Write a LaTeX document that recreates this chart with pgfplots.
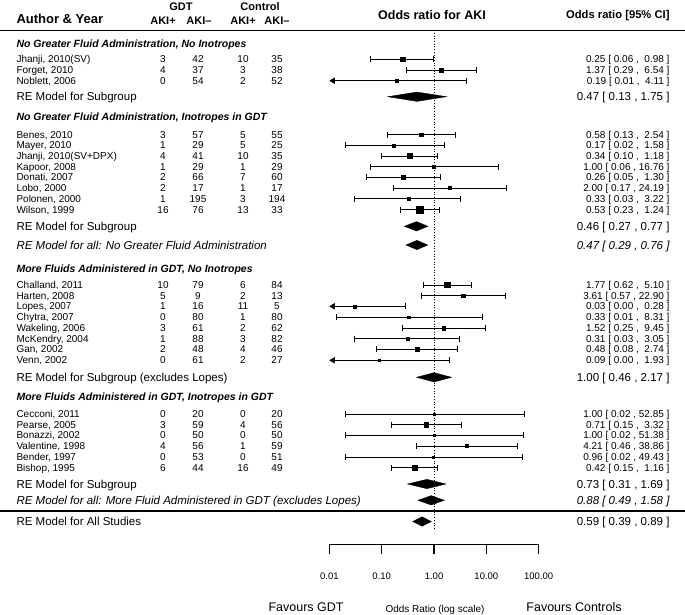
\documentclass[border=0pt]{standalone}
\usepackage{pgfplots}
\pgfplotsset{compat=1.18}
\usepackage{pgfplotstable}
\usepackage{fontspec}
\setmainfont{Liberation Sans}
\newcommand{\fs}[1]{\fontsize{#1bp}{#1bp}\selectfont}

% study estimates: y (row position), odds ratio, square half-size
\pgfplotstableread{
y or ms
555.7 0.25 2.3
545.0 1.37 2.0
534.3 0.19 1.4
480.3 0.58 2.0
469.7 0.17 1.5
459.0 0.34 2.5
448.3 1.00 1.4
437.7 0.26 2.0
427.0 2.00 1.4
416.3 0.33 1.4
405.3 0.53 3.4
330.0 1.77 2.7
319.3 3.61 1.7
308.7 0.03 1.5
298.0 0.33 1.2
287.0 1.52 1.8
276.3 0.31 1.5
265.7 0.48 2.0
254.7 0.09 1.2
201.0 1.00 1.1
190.3 0.71 2.2
179.7 1.00 1.1
169.0 4.21 1.5
158.0 0.96 1.1
147.3 0.42 2.5
}\studies

\newcommand{\study}[7]{%
  \node[anchor=base west,font=\fs{10},yshift=-3.6bp] at (axis cs:13,#1) {#2};
  \node[anchor=base,font=\fs{10},yshift=-3.6bp] at (axis cs:163,#1) {#3};
  \node[anchor=base,font=\fs{10},yshift=-3.6bp] at (axis cs:198,#1) {#4};
  \node[anchor=base,font=\fs{10},yshift=-3.6bp] at (axis cs:243,#1) {#5};
  \node[anchor=base,font=\fs{10},yshift=-3.6bp] at (axis cs:277,#1) {#6};
  \node[anchor=base east,font=\fs{10},yshift=-3.6bp] at (axis cs:673,#1) {#7};
}
\newcommand{\remodel}[3]{%
  \node[anchor=base west,font=\fs{11.5},yshift=-4.1bp] at (axis cs:13,#1) {#2};
  \node[anchor=base east,font=\fs{11.5},yshift=-4.1bp] at (axis cs:673,#1) {#3};
}
\newcommand{\heading}[2]{%
  \node[anchor=base west,font=\fs{10.5}\bfseries\itshape,yshift=-3.8bp] at (axis cs:13,#1) {#2};
}

\begin{document}
\begin{tikzpicture}
\useasboundingbox (0,-615bp) rectangle (685bp,0);

\begin{axis}[
  at={(0,0)}, anchor=north west,
  scale only axis, width=685bp, height=615bp,
  xmin=0, xmax=685, ymin=0, ymax=615,
  hide axis, clip=false]
  % rules
  \addplot[black, line width=1.3pt, mark=none] coordinates {(0,584.3) (685,584.3)};
  \addplot[black, line width=1.3pt, mark=none] coordinates {(0,104) (685,104)};

  % header
  \node[anchor=base,font=\fs{11}\bfseries,yshift=-4bp] at (axis cs:181,608) {GDT};
  \node[anchor=base,font=\fs{11}\bfseries,yshift=-4bp] at (axis cs:260,608) {Control};
  \node[anchor=base west,font=\fs{13}\bfseries,yshift=-4.7bp] at (axis cs:13,596) {Author \& Year};
  \node[anchor=base,font=\fs{11}\bfseries,yshift=-4bp] at (axis cs:163,594) {AKI+};
  \node[anchor=base,font=\fs{11}\bfseries,yshift=-4bp] at (axis cs:199,594) {AKI\textendash};
  \node[anchor=base,font=\fs{11}\bfseries,yshift=-4bp] at (axis cs:243,594) {AKI+};
  \node[anchor=base,font=\fs{11}\bfseries,yshift=-4bp] at (axis cs:277,594) {AKI\textendash};
  \node[anchor=base,font=\fs{12.5}\bfseries,yshift=-4.5bp] at (axis cs:432,600) {Odds ratio for AKI};
  \node[anchor=base east,font=\fs{11.2}\bfseries,yshift=-4bp] at (axis cs:673,600) {Odds ratio [95\% CI]};

  % group 1
  \heading{571.5}{No Greater Fluid Administration, No Inotropes}
  \study{555.7}{Jhanji, 2010(SV)}{3}{42}{10}{35}{0.25 [ 0.06 , ~0.98 ]}
  \study{545.0}{Forget, 2010}{4}{37}{3}{38}{1.37 [ 0.29 , ~6.54 ]}
  \study{534.3}{Noblett, 2006}{0}{54}{2}{52}{0.19 [ 0.01 , ~4.11 ]}
  \remodel{518.3}{RE Model for Subgroup}{0.47 [ 0.13 , 1.75 ]}

  % group 2
  \heading{498}{No Greater Fluid Administration, Inotropes in GDT}
  \study{480.3}{Benes, 2010}{3}{57}{5}{55}{0.58 [ 0.13 , ~2.54 ]}
  \study{469.7}{Mayer, 2010}{1}{29}{5}{25}{0.17 [ 0.02 , ~1.58 ]}
  \study{459.0}{Jhanji, 2010(SV+DPX)}{4}{41}{10}{35}{0.34 [ 0.10 , ~1.18 ]}
  \study{448.3}{Kapoor, 2008}{1}{29}{1}{29}{1.00 [ 0.06 , 16.76 ]}
  \study{437.7}{Donati, 2007}{2}{66}{7}{60}{0.26 [ 0.05 , ~1.30 ]}
  \study{427.0}{Lobo, 2000}{2}{17}{1}{17}{2.00 [ 0.17 , 24.19 ]}
  \study{416.3}{Polonen, 2000}{1}{195}{3}{194}{0.33 [ 0.03 , ~3.22 ]}
  \study{405.3}{Wilson, 1999}{16}{76}{13}{33}{0.53 [ 0.23 , ~1.24 ]}
  \remodel{388.7}{RE Model for Subgroup}{0.46 [ 0.27 , 0.77 ]}
  \remodel{370}{\itshape RE Model for all: No Greater Fluid Administration}{\itshape 0.47 [ 0.29 , 0.76 ]}

  % group 3
  \heading{346.7}{More Fluids Administered in GDT, No Inotropes}
  \study{330.0}{Challand, 2011}{10}{79}{6}{84}{1.77 [ 0.62 , ~5.10 ]}
  \study{319.3}{Harten, 2008}{5}{9}{2}{13}{3.61 [ 0.57 , 22.90 ]}
  \study{308.7}{Lopes, 2007}{1}{16}{11}{5}{0.03 [ 0.00 , ~0.28 ]}
  \study{298.0}{Chytra, 2007}{0}{80}{1}{80}{0.33 [ 0.01 , ~8.31 ]}
  \study{287.0}{Wakeling, 2006}{3}{61}{2}{62}{1.52 [ 0.25 , ~9.45 ]}
  \study{276.3}{McKendry, 2004}{1}{88}{3}{82}{0.31 [ 0.03 , ~3.05 ]}
  \study{265.7}{Gan, 2002}{2}{48}{4}{46}{0.48 [ 0.08 , ~2.74 ]}
  \study{254.7}{Venn, 2002}{0}{61}{2}{27}{0.09 [ 0.00 , ~1.93 ]}
  \remodel{237.7}{RE Model for Subgroup (excludes Lopes)}{1.00 [ 0.46 , 2.17 ]}

  % group 4
  \heading{218}{More Fluids Administered in GDT, Inotropes in GDT}
  \study{201.0}{Cecconi, 2011}{0}{20}{0}{20}{1.00 [ 0.02 , 52.85 ]}
  \study{190.3}{Pearse, 2005}{3}{59}{4}{56}{0.71 [ 0.15 , ~3.32 ]}
  \study{179.7}{Bonazzi, 2002}{0}{50}{0}{50}{1.00 [ 0.02 , 51.38 ]}
  \study{169.0}{Valentine, 1998}{4}{56}{1}{59}{4.21 [ 0.46 , 38.86 ]}
  \study{158.0}{Bender, 1997}{0}{53}{0}{51}{0.96 [ 0.02 , 49.43 ]}
  \study{147.3}{Bishop, 1995}{6}{44}{16}{49}{0.42 [ 0.15 , ~1.16 ]}
  \remodel{131}{RE Model for Subgroup}{0.73 [ 0.31 , 1.69 ]}
  \remodel{114.7}{\itshape RE Model for all: More Fluid Administered in GDT (excludes Lopes)}{\itshape 0.88 [ 0.49 , 1.58 ]}
  \remodel{93.5}{RE Model for All Studies}{0.59 [ 0.39 , 0.89 ]}

  % bottom labels
  \node[anchor=base west,font=\fs{12.5},yshift=-4.5bp] at (axis cs:265,8.3) {Favours GDT};
  \node[anchor=base,font=\fs{10},yshift=-3.6bp] at (axis cs:435,6) {Odds Ratio (log scale)};
  \node[anchor=base,font=\fs{12.5},yshift=-4.5bp] at (axis cs:574,8.3) {Favours Controls};
\end{axis}

\begin{axis}[
  at={(329.4bp,0)}, anchor=north west,
  scale only axis, width=209.3bp, height=544.3bp,
  xmode=log, xmin=0.01, xmax=100, ymin=70.7, ymax=615,
  axis x line=bottom, axis y line=none,
  axis line style={-, line width=1.2pt},
  xtick={0.01,0.1,1,10,100},
  xticklabels={0.01,0.10,1.00,10.00,100.00},
  xminorticks=false, minor tick num=0,
  tick align=outside, major tick length=9.5bp,
  tick style={black, line width=1.2pt},
  xticklabel style={font=\fs{9.5}, yshift=-16bp},
  clip=false,
  ci/.style={black, line width=0.8pt, mark=|, mark size=3, mark options={solid, line width=0.8pt}},
  diam/.style={black, fill=black, line width=0.3pt, mark=none},
]
  % reference line
  \addplot[black, dotted, line width=0.7pt, mark=none] coordinates {(1,582) (1,85)};

  % confidence intervals
  \addplot[ci] coordinates {(0.06,555.7) (0.98,555.7)};
  \addplot[ci] coordinates {(0.29,545.0) (6.54,545.0)};
  \addplot[ci, mark indices={2}] coordinates {(0.0117,534.3) (4.11,534.3)};
  \addplot[ci] coordinates {(0.13,480.3) (2.54,480.3)};
  \addplot[ci] coordinates {(0.02,469.7) (1.58,469.7)};
  \addplot[ci] coordinates {(0.10,459.0) (1.18,459.0)};
  \addplot[ci] coordinates {(0.06,448.3) (16.76,448.3)};
  \addplot[ci] coordinates {(0.05,437.7) (1.30,437.7)};
  \addplot[ci] coordinates {(0.17,427.0) (24.19,427.0)};
  \addplot[ci] coordinates {(0.03,416.3) (3.22,416.3)};
  \addplot[ci] coordinates {(0.23,405.3) (1.24,405.3)};
  \addplot[ci] coordinates {(0.62,330.0) (5.10,330.0)};
  \addplot[ci] coordinates {(0.57,319.3) (22.90,319.3)};
  \addplot[ci, mark indices={2}] coordinates {(0.0117,308.7) (0.28,308.7)};
  \addplot[ci] coordinates {(0.0134,298.0) (8.31,298.0)};
  \addplot[ci] coordinates {(0.25,287.0) (9.45,287.0)};
  \addplot[ci] coordinates {(0.03,276.3) (3.05,276.3)};
  \addplot[ci] coordinates {(0.08,265.7) (2.74,265.7)};
  \addplot[ci, mark indices={2}] coordinates {(0.0117,254.7) (1.93,254.7)};
  \addplot[ci] coordinates {(0.02,201.0) (52.85,201.0)};
  \addplot[ci] coordinates {(0.15,190.3) (3.32,190.3)};
  \addplot[ci] coordinates {(0.02,179.7) (51.38,179.7)};
  \addplot[ci] coordinates {(0.46,169.0) (38.86,169.0)};
  \addplot[ci] coordinates {(0.02,158.0) (49.43,158.0)};
  \addplot[ci] coordinates {(0.15,147.3) (1.16,147.3)};

  % truncated lower limits
  \addplot[only marks, black, mark=triangle*, mark size=3.3, mark options={rotate=90}]
    coordinates {(0.0117,534.3) (0.0117,308.7) (0.0117,254.7)};

  % point estimates
  \addplot[scatter, only marks, mark=square*,
    scatter/use mapped color={draw=black, fill=black},
    visualization depends on={\thisrow{ms} \as \ms},
    scatter/@pre marker code/.append style={/tikz/mark size=\ms}]
    table[x=or, y=y] {\studies};

  % summary diamonds
  \addplot[diam] coordinates {(0.13,518.3) (0.47,523) (1.75,518.3) (0.47,513.6)} -- cycle;
  \addplot[diam] coordinates {(0.27,388.7) (0.46,393.4) (0.77,388.7) (0.46,384.0)} -- cycle;
  \addplot[diam] coordinates {(0.29,370.0) (0.47,374.7) (0.76,370.0) (0.47,365.3)} -- cycle;
  \addplot[diam] coordinates {(0.46,237.7) (1.00,242.4) (2.17,237.7) (1.00,233.0)} -- cycle;
  \addplot[diam] coordinates {(0.31,131.0) (0.73,135.7) (1.69,131.0) (0.73,126.3)} -- cycle;
  \addplot[diam] coordinates {(0.49,114.7) (0.88,119.4) (1.58,114.7) (0.88,110.0)} -- cycle;
  \addplot[diam] coordinates {(0.39,93.5) (0.59,98.2) (0.89,93.5) (0.59,88.8)} -- cycle;
\end{axis}
\end{tikzpicture}
\end{document}
